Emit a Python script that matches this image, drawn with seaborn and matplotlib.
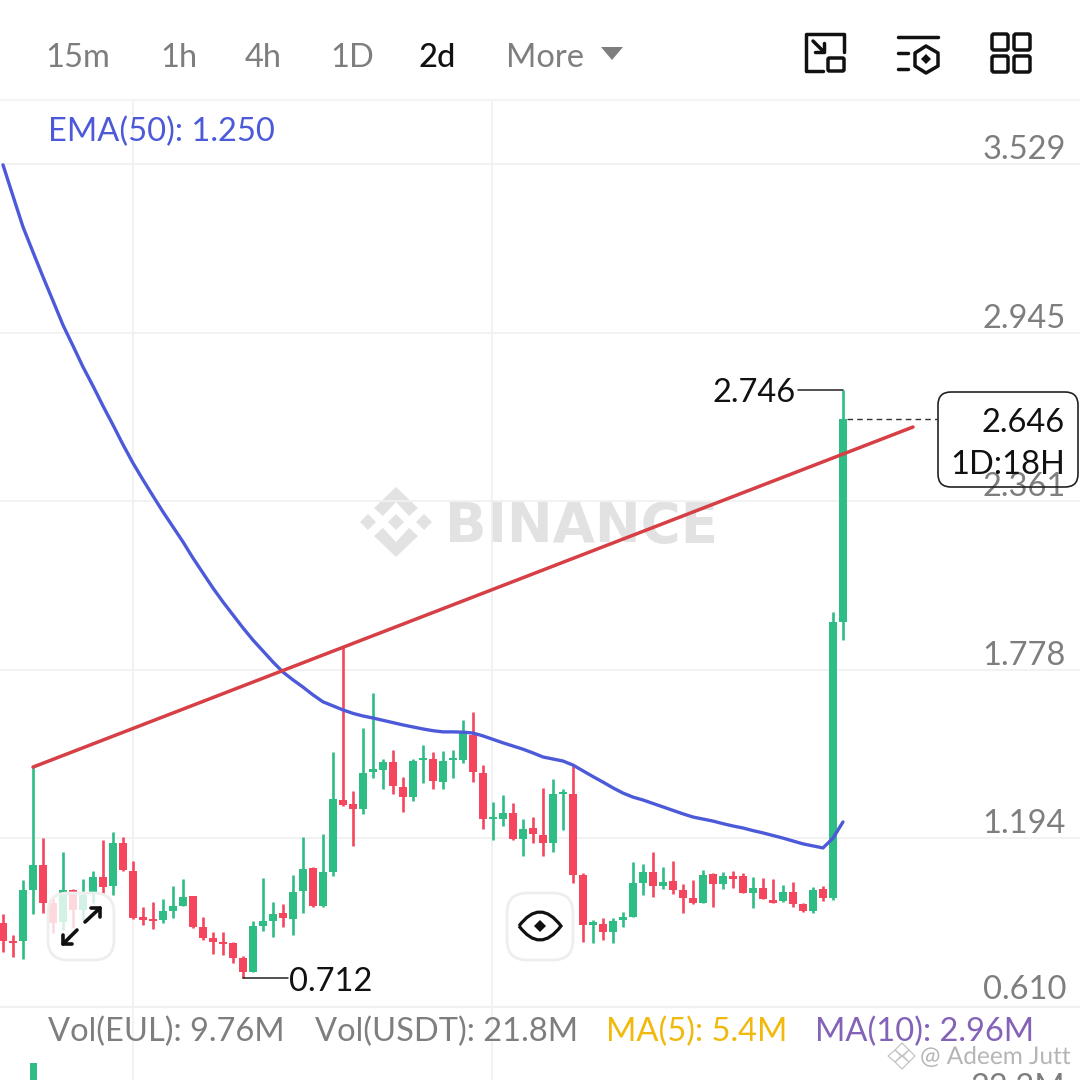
import matplotlib
matplotlib.use("Agg")
import matplotlib.pyplot as plt
import matplotlib.patheffects as pe
from matplotlib.patches import FancyBboxPatch, PathPatch, Polygon
from matplotlib.path import Path
import pandas as pd
import seaborn as sns

# candles, one value per 2d bar
opens = [0.901, 0.839, 0.839, 1.015, 1.102, 0.970, 0.904, 1.015, 0.946, 1.008,
         1.060, 1.029, 1.178, 1.081, 0.922, 0.915, 0.911, 0.943, 0.960, 0.995,
         0.887, 0.849, 0.835, 0.832, 0.780, 0.731, 0.891, 0.908, 0.936, 0.915,
         1.012, 1.092, 0.960, 1.078, 1.327, 1.313, 1.296, 1.424, 1.431, 1.459,
         1.372, 1.337, 1.466, 1.469, 1.389, 1.466, 1.466, 1.552, 1.421, 1.261,
         1.261, 1.282, 1.192, 1.230, 1.206, 1.178, 1.348, 1.348, 1.067, 0.894,
         0.898, 0.870, 0.911, 0.922, 1.040, 1.078, 1.029, 1.046, 1.015, 0.988,
         0.970, 1.071, 1.036, 1.064, 1.064, 1.005, 1.022, 0.981, 0.977, 1.008,
         0.967, 0.943, 1.019, 0.988, 1.944]
highs = [0.932, 0.859, 1.050, 1.441, 1.195, 0.991, 1.147, 1.019, 1.053, 1.081,
         1.188, 1.216, 1.199, 1.116, 0.956, 0.974, 0.984, 1.029, 1.053, 0.995,
         0.922, 0.870, 0.870, 0.835, 0.787, 0.908, 1.057, 0.974, 0.967, 1.067,
         1.199, 1.095, 1.209, 1.493, 1.861, 1.358, 1.576, 1.698, 1.469, 1.500,
         1.407, 1.469, 1.518, 1.493, 1.497, 1.500, 1.604, 1.632, 1.448, 1.320,
         1.344, 1.317, 1.261, 1.268, 1.369, 1.400, 1.365, 1.445, 1.074, 0.911,
         0.918, 0.918, 0.939, 1.112, 1.105, 1.147, 1.095, 1.116, 1.036, 1.050,
         1.085, 1.074, 1.078, 1.081, 1.074, 1.060, 1.057, 1.053, 1.033, 1.043,
         0.970, 1.026, 1.029, 1.978, 2.746]
lows = [0.801, 0.783, 0.776, 0.932, 0.936, 0.866, 0.877, 0.884, 0.911, 0.970,
        1.005, 0.998, 1.081, 0.915, 0.894, 0.880, 0.901, 0.918, 0.960, 0.884,
        0.842, 0.794, 0.790, 0.762, 0.712, 0.731, 0.873, 0.852, 0.887, 0.859,
        0.936, 0.956, 0.956, 1.064, 1.306, 1.168, 1.279, 1.403, 1.365, 1.348,
        1.285, 1.324, 1.386, 1.365, 1.365, 1.403, 1.455, 1.389, 1.227, 1.188,
        1.237, 1.188, 1.133, 1.178, 1.133, 1.147, 1.223, 1.040, 0.835, 0.832,
        0.842, 0.832, 0.887, 0.922, 0.998, 0.991, 1.019, 1.001, 0.936, 0.967,
        0.970, 0.956, 1.019, 1.022, 1.005, 0.953, 0.984, 0.970, 0.974, 0.956,
        0.939, 0.936, 0.977, 0.981, 1.881]
closes = [0.839, 0.832, 1.015, 1.102, 0.970, 0.901, 1.015, 0.946, 0.998, 1.060,
          1.026, 1.178, 1.085, 0.918, 0.911, 0.908, 0.943, 0.960, 0.991, 0.887,
          0.849, 0.835, 0.828, 0.780, 0.731, 0.891, 0.908, 0.932, 0.918, 1.008,
          1.088, 0.960, 1.078, 1.331, 1.310, 1.296, 1.421, 1.434, 1.459, 1.376,
          1.337, 1.462, 1.473, 1.393, 1.462, 1.473, 1.559, 1.424, 1.261, 1.268,
          1.282, 1.192, 1.227, 1.209, 1.178, 1.348, 1.355, 1.067, 0.894, 0.904,
          0.870, 0.908, 0.922, 1.040, 1.078, 1.029, 1.043, 1.015, 0.988, 0.970,
          1.067, 1.036, 1.064, 1.053, 1.005, 1.022, 0.984, 0.970, 1.008, 0.967,
          0.943, 1.015, 0.988, 1.944, 2.646]
ema50 = [3.527, 3.419, 3.312, 3.225, 3.139, 3.056, 2.972, 2.900, 2.827, 2.761,
         2.692, 2.626, 2.558, 2.494, 2.436, 2.380, 2.325, 2.273, 2.221, 2.165,
         2.113, 2.061, 2.013, 1.968, 1.923, 1.881, 1.843, 1.805, 1.770, 1.743,
         1.718, 1.691, 1.667, 1.653, 1.639, 1.627, 1.618, 1.611, 1.603, 1.595,
         1.587, 1.580, 1.573, 1.567, 1.563, 1.563, 1.562, 1.559, 1.549, 1.537,
         1.525, 1.514, 1.503, 1.490, 1.476, 1.469, 1.462, 1.448, 1.428, 1.408,
         1.389, 1.369, 1.351, 1.337, 1.327, 1.315, 1.303, 1.291, 1.279, 1.268,
         1.261, 1.254, 1.245, 1.237, 1.230, 1.221, 1.213, 1.204, 1.195, 1.185,
         1.175, 1.168, 1.161, 1.195, 1.251]
trend_x = [3, 91]
trend_y = [1.441, 2.619]
price_ticks = [0.610, 1.194, 1.778, 2.361, 2.945, 3.529]
price_labels = ["0.610", "1.194", "1.778", "2.361", "2.945", "3.529"]
time_ticks = [13, 48.9]
vol_x = [3]
vol_values = [30.0]
tabs = ["15m", "1h", "4h", "1D", "2d", "More"]
tab_left = [45, 160, 245, 330, 418, 506]

GREEN = "#2EBD85"
RED = "#F6465D"
GRID = "#F1F1F1"
GRAY = "#7E7E7E"
BLUE = "#4C5AD9"
INK = "#111111"
FS = 23.5

sns.set_theme(style="white")
plt.rcParams["font.family"] = ["Lato", "DejaVu Sans"]

fig = plt.figure(figsize=(10.8, 10.8), dpi=100, facecolor="white")


def pixel_axes(zorder):
    a = fig.add_axes([0, 0, 1, 1], zorder=zorder)
    a.set_xlim(0, 1080)
    a.set_ylim(1080, 0)
    a.axis("off")
    return a


bg = pixel_axes(0)
ax = fig.add_axes([0, 73 / 1080, 1, 907 / 1080], zorder=1)
ax_vol = fig.add_axes([0, 0, 1, 73 / 1080], zorder=1)
ui = pixel_axes(2)

# BINANCE watermark behind the grid
wm = "#E2E2E2"
bg.add_patch(Polygon([(396, 487), (418, 508), (409, 516), (396, 502), (383, 516), (374, 508)], color=wm, lw=0))
bg.add_patch(Polygon([(396, 557), (418, 536), (409, 528), (396, 542), (383, 528), (374, 536)], color=wm, lw=0))
for cx in [368, 396, 424]:
    bg.add_patch(Polygon([(cx, 514), (cx + 8, 522), (cx, 530), (cx - 8, 522)], color=wm, lw=0))
bg.text(445, 542, "BINANCE", fontsize=39.3, fontweight="bold", color=wm, ha="left", va="baseline",
        family="DejaVu Sans")

# price panel
ax.patch.set_visible(False)
df = pd.DataFrame({"x": range(len(opens)), "open": opens, "high": highs, "low": lows,
                   "close": closes, "ema": ema50})
df["color"] = [GREEN if c >= o else RED for o, c in zip(df["open"], df["close"])]
ax.vlines(df["x"], df["low"], df["high"], colors=df["color"], lw=1.9, zorder=3)
ax.bar(df["x"], (df["close"] - df["open"]).abs(), bottom=df[["open", "close"]].min(axis=1),
       width=0.72, color=df["color"], lw=0, zorder=3)
sns.lineplot(data=df, x="x", y="ema", color=BLUE, linewidth=2.4, ax=ax, zorder=5, errorbar=None)
sns.lineplot(x=trend_x, y=trend_y, color="#D63F45", linewidth=2.5, ax=ax, zorder=6, errorbar=None)

ax.set_xlim(-0.3, 107.7)
ax.set_ylim(0.61, 3.7517)
ax.set_xticks(time_ticks)
ax.set_yticks(price_ticks)
ax.grid(True, color=GRID, lw=1.3)
ax.set_axisbelow(True)
ax.tick_params(length=0, labelleft=False, labelbottom=False)
ax.set_xlabel("")
ax.set_ylabel("")
sns.despine(ax=ax, left=True, bottom=True)
ax.axhline(0.61, color=GRID, lw=1.6, clip_on=False, zorder=1)

for v, s in zip(price_ticks, price_labels):
    off = 8 if s == "0.610" else 5
    ax.annotate(s, xy=(106.3, v), xytext=(0, off * 0.72), textcoords="offset points",
                ha="right", va="baseline", fontsize=FS, color=GRAY, annotation_clip=False, zorder=2)

# high / low / last price markers
ax.plot([79.5, 84], [highs[-1], highs[-1]], color="#222222", lw=1.1, zorder=4)
ax.annotate("2.746", xy=(79.3, highs[-1]), xytext=(0, -8.7), textcoords="offset points",
            ha="right", va="baseline", fontsize=FS, color=INK)
ax.plot([24, 28.5], [lows[24], lows[24]], color="#222222", lw=1.1, zorder=4)
ax.annotate("0.712", xy=(28.6, lows[24]), xytext=(0, -9.7), textcoords="offset points",
            ha="left", va="baseline", fontsize=FS, color=INK)
ax.plot([84.4, 93.4], [closes[-1], closes[-1]], color="#333333", lw=1.0, ls=(0, (4, 3)), zorder=4)

# volume panel, only the top of it is in frame
ax_vol.patch.set_visible(False)
ax_vol.bar(vol_x, vol_values, width=0.7, color=GREEN, lw=0)
ax_vol.set_xlim(-0.3, 107.7)
ax_vol.set_ylim(26.7, 40.9)
ax_vol.set_xticks(time_ticks)
ax_vol.set_yticks([])
ax_vol.grid(True, axis="x", color=GRID, lw=1.3)
ax_vol.set_axisbelow(True)
ax_vol.tick_params(length=0, labelbottom=False)
sns.despine(ax=ax_vol, left=True, bottom=True, right=True, top=True)

# header
for s, x in zip(tabs, tab_left):
    ui.text(x, 67, s, fontsize=FS, color=INK if s == "2d" else GRAY, ha="left", va="baseline",
            fontweight="medium" if s == "2d" else "normal")
ui.add_patch(Polygon([(601, 47), (623, 47), (612, 60)], color=GRAY, lw=0))
ui.plot([0, 1080], [100, 100], color="#F4F4F4", lw=1.6)


def stroke(xs, ys, color=INK, lw=2.5):
    ui.plot(xs, ys, color=color, lw=lw, solid_capstyle="round", solid_joinstyle="round")


def rbox(x0, y0, x1, y1, r, **kw):
    ui.add_patch(FancyBboxPatch((x0, y0), x1 - x0, y1 - y0, boxstyle=f"round,pad=0,rounding_size={r}", **kw))


# icons top right
stroke([823, 806, 806, 844, 844], [71, 71, 34, 34, 52])
rbox(828, 58, 844, 71, 1.5, fc="none", ec=INK, lw=2.5)
stroke([813, 824], [41, 52])
stroke([824, 824, 815], [43, 52, 52])
stroke([898, 938], [37, 37])
stroke([898, 908], [53, 53])
stroke([898, 908], [69, 69])
ui.add_patch(Polygon([(926, 46), (938, 53), (938, 66), (926, 73), (915, 66), (915, 53)],
                     fc="none", ec=INK, lw=2.5, joinstyle="round"))
ui.add_patch(Polygon([(926, 54), (931, 59), (926, 64), (921, 59)], color=INK, lw=0))
for bx in [992, 1014]:
    for by in [34, 56]:
        rbox(bx, by, bx + 16, by + 16, 2, fc="none", ec=INK, lw=2.5)

# legends
ui.text(48, 141, "EMA(50): 1.250", fontsize=FS, color=BLUE, ha="left", va="baseline")
ui.text(48, 1041, "Vol(EUL): 9.76M", fontsize=FS, color=GRAY, ha="left", va="baseline")
ui.text(315, 1041, "Vol(USDT): 21.8M", fontsize=FS, color=GRAY, ha="left", va="baseline")
ui.text(606, 1041, "MA(5): 5.4M", fontsize=FS, color="#F0B90B", ha="left", va="baseline")
ui.text(815, 1041, "MA(10): 2.96M", fontsize=FS, color="#8462B8", ha="left", va="baseline")
ui.text(1065, 1097, "22.2M", fontsize=FS, color=GRAY, ha="right", va="baseline")

# last price box, the 2.361 label shows through it
rbox(938, 392, 1078, 487, 13, fc="none", ec="#222222", lw=1.2)
ui.text(1065, 432, "2.646", fontsize=FS, color=INK, ha="right", va="baseline")
ui.text(1065, 474, "1D:18H", fontsize=FS, color=INK, ha="right", va="baseline")

# buttons on the chart
rbox(48, 893, 114, 960, 20, fc=(1, 1, 1, 0.8), ec="#EEEEEE", lw=2)
stroke([85, 100], [922, 908], lw=2.6)
stroke([91, 100, 100], [908, 908, 917], lw=2.6)
stroke([77, 63], [930, 944], lw=2.6)
stroke([63, 63, 72], [935, 944, 944], lw=2.6)
rbox(507, 893, 573, 960, 20, fc="white", ec="#EEEEEE", lw=2)
ui.add_patch(PathPatch(Path([(519, 926), (540, 898), (561, 926), (540, 954), (519, 926)],
                            [Path.MOVETO, Path.CURVE3, Path.LINETO, Path.CURVE3, Path.LINETO]),
                       fc="none", ec=INK, lw=2.3))
ui.add_patch(Polygon([(540, 920), (546, 926), (540, 932), (534, 926)], color=INK, lw=0))

# author watermark bottom right
halo = [pe.withStroke(linewidth=2.5, foreground="white")]
ui.text(920, 1064, "@ Adeem Jutt", fontsize=17.6, color="#B5B5B5", ha="left", va="baseline", path_effects=halo)
for pts in ([(902, 1043), (909, 1050), (902, 1056), (895, 1050)],
            [(902, 1056), (909, 1062), (902, 1069), (895, 1062)],
            [(895, 1050), (901, 1056), (895, 1062), (888, 1056)],
            [(909, 1050), (915, 1056), (909, 1062), (903, 1056)]):
    ui.add_patch(Polygon(pts, fc="white", ec="#C4C4C4", lw=0.9))

fig.savefig("out.png", dpi=100)
